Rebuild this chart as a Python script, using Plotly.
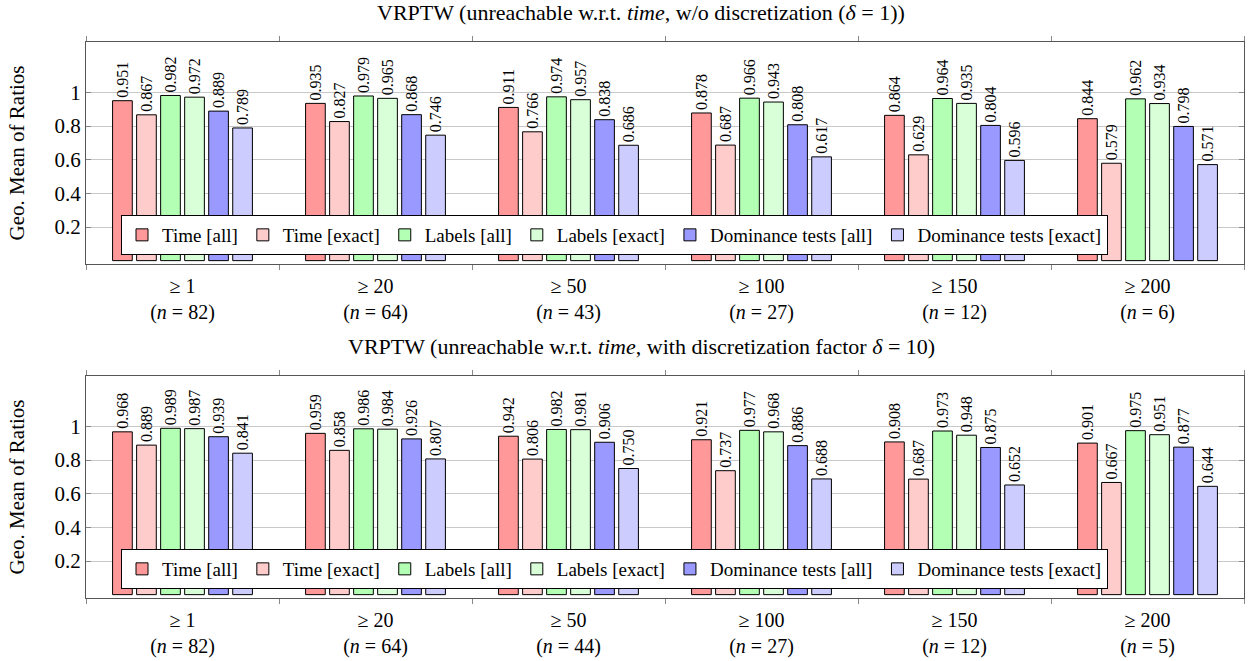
import plotly.graph_objects as go

groups = ["≥ 1", "≥ 20", "≥ 50", "≥ 100", "≥ 150", "≥ 200"]
n_top = [82, 64, 43, 27, 12, 6]
n_bot = [82, 64, 44, 27, 12, 5]

series_names = ["Time [all]", "Time [exact]", "Labels [all]", "Labels [exact]",
                "Dominance tests [all]", "Dominance tests [exact]"]
colors = ["#ff9999", "#ffcccc", "#b3ffb3", "#d9ffd9", "#9999ff", "#ccccff"]

top_time_all = [0.951, 0.935, 0.911, 0.878, 0.864, 0.844]
top_time_exact = [0.867, 0.827, 0.766, 0.687, 0.629, 0.579]
top_labels_all = [0.982, 0.979, 0.974, 0.966, 0.964, 0.962]
top_labels_exact = [0.972, 0.965, 0.957, 0.943, 0.935, 0.934]
top_dom_all = [0.889, 0.868, 0.838, 0.808, 0.804, 0.798]
top_dom_exact = [0.789, 0.746, 0.686, 0.617, 0.596, 0.571]

bot_time_all = [0.968, 0.959, 0.942, 0.921, 0.908, 0.901]
bot_time_exact = [0.889, 0.858, 0.806, 0.737, 0.687, 0.667]
bot_labels_all = [0.989, 0.986, 0.982, 0.977, 0.973, 0.975]
bot_labels_exact = [0.987, 0.984, 0.981, 0.968, 0.948, 0.951]
bot_dom_all = [0.939, 0.926, 0.906, 0.886, 0.875, 0.877]
bot_dom_exact = [0.841, 0.807, 0.750, 0.688, 0.652, 0.644]

top_series = [top_time_all, top_time_exact, top_labels_all, top_labels_exact, top_dom_all, top_dom_exact]
bot_series = [bot_time_all, bot_time_exact, bot_labels_all, bot_labels_exact, bot_dom_all, bot_dom_exact]

yticks = [0.2, 0.4, 0.6, 0.8, 1]
ytick_text = ["0.2", "0.4", "0.6", "0.8", "1"]

FONT = "Liberation Serif"
W, H = 1256, 661

def cats(ns):
    return [f"{g}<br>(<i>n</i> = {n})" for g, n in zip(groups, ns)]

fig = go.Figure()
top_cats = cats(n_top)
bot_cats = cats(n_bot)

def add_bars(cats_, series, xa, ya, lg):
    for name, col, vals in zip(series_names, colors, series):
        fig.add_trace(go.Bar(x=cats_, y=vals, name=name,
                             marker=dict(color=col, line=dict(color="black", width=1)),
                             text=[f"{v:.3f}" for v in vals], textposition="outside", textangle=-90,
                             constraintext="none",
                             textfont=dict(family=FONT, size=16, color="black"), cliponaxis=False,
                             xaxis=xa, yaxis=ya, legend=lg))

add_bars(top_cats, top_series, "x", "y", "legend")
add_bars(bot_cats, bot_series, "x2", "y2", "legend2")

x0, x1 = 86 / W, 1244 / W
top_dom = [1 - 264 / H, 1 - 42 / H]
bot_dom = [1 - 598 / H, 1 - 376 / H]

xaxis_common = dict(type="category", range=[-0.5, 5.5], domain=[x0, x1], tickson="boundaries",
                    ticks="outside", ticklen=5, tickcolor="#888", showgrid=False, showline=True,
                    linecolor="#555", linewidth=1, mirror="ticks", ticklabelstandoff=4,
                    tickfont=dict(family=FONT, size=20, color="black"), fixedrange=True)
yaxis_common = dict(range=[-0.02, 1.30], tickvals=yticks, ticktext=ytick_text, showgrid=True,
                    gridcolor="#c8c8c8", gridwidth=1, showline=True, linecolor="#555", linewidth=1,
                    mirror="ticks", ticks="inside", ticklen=5, tickcolor="#888", zeroline=False,
                    tickfont=dict(family=FONT, size=21, color="black"),
                    title=dict(text="Geo. Mean of Ratios", font=dict(family=FONT, size=21, color="black"), standoff=24))

legend_common = dict(orientation="h", xanchor="left", yanchor="top", bgcolor="white",
                     bordercolor="black", borderwidth=1, font=dict(family=FONT, size=19, color="black"),
                     itemwidth=30, tracegroupgap=0)

fig.update_layout(
    width=W, height=H, margin=dict(l=0, r=0, t=0, b=0),
    paper_bgcolor="white", plot_bgcolor="white",
    font=dict(family=FONT, color="black"),
    barmode="group", bargap=0.253, bargroupgap=0.18,
    xaxis=dict(**xaxis_common, anchor="y"),
    yaxis=dict(**yaxis_common, domain=top_dom, anchor="x"),
    xaxis2=dict(**xaxis_common, anchor="y2"),
    yaxis2=dict(**yaxis_common, domain=bot_dom, anchor="x2"),
    legend=dict(**legend_common, x=121 / W, y=1 - 215 / H),
    legend2=dict(**legend_common, x=121 / W, y=1 - 549 / H),
    showlegend=True,
    annotations=[
        dict(text="VRPTW (unreachable w.r.t. <i>time</i>, w/o discretization (<i>δ</i> = 1))",
             x=641 / W, y=1 - 13 / H, xref="paper", yref="paper", showarrow=False,
             font=dict(family=FONT, size=22, color="black"), xanchor="center", yanchor="middle"),
        dict(text="VRPTW (unreachable w.r.t. <i>time</i>, with discretization factor <i>δ</i> = 10)",
             x=641 / W, y=1 - 346 / H, xref="paper", yref="paper", showarrow=False,
             font=dict(family=FONT, size=22, color="black"), xanchor="center", yanchor="middle"),
    ],
)

fig.write_html("out.html")
